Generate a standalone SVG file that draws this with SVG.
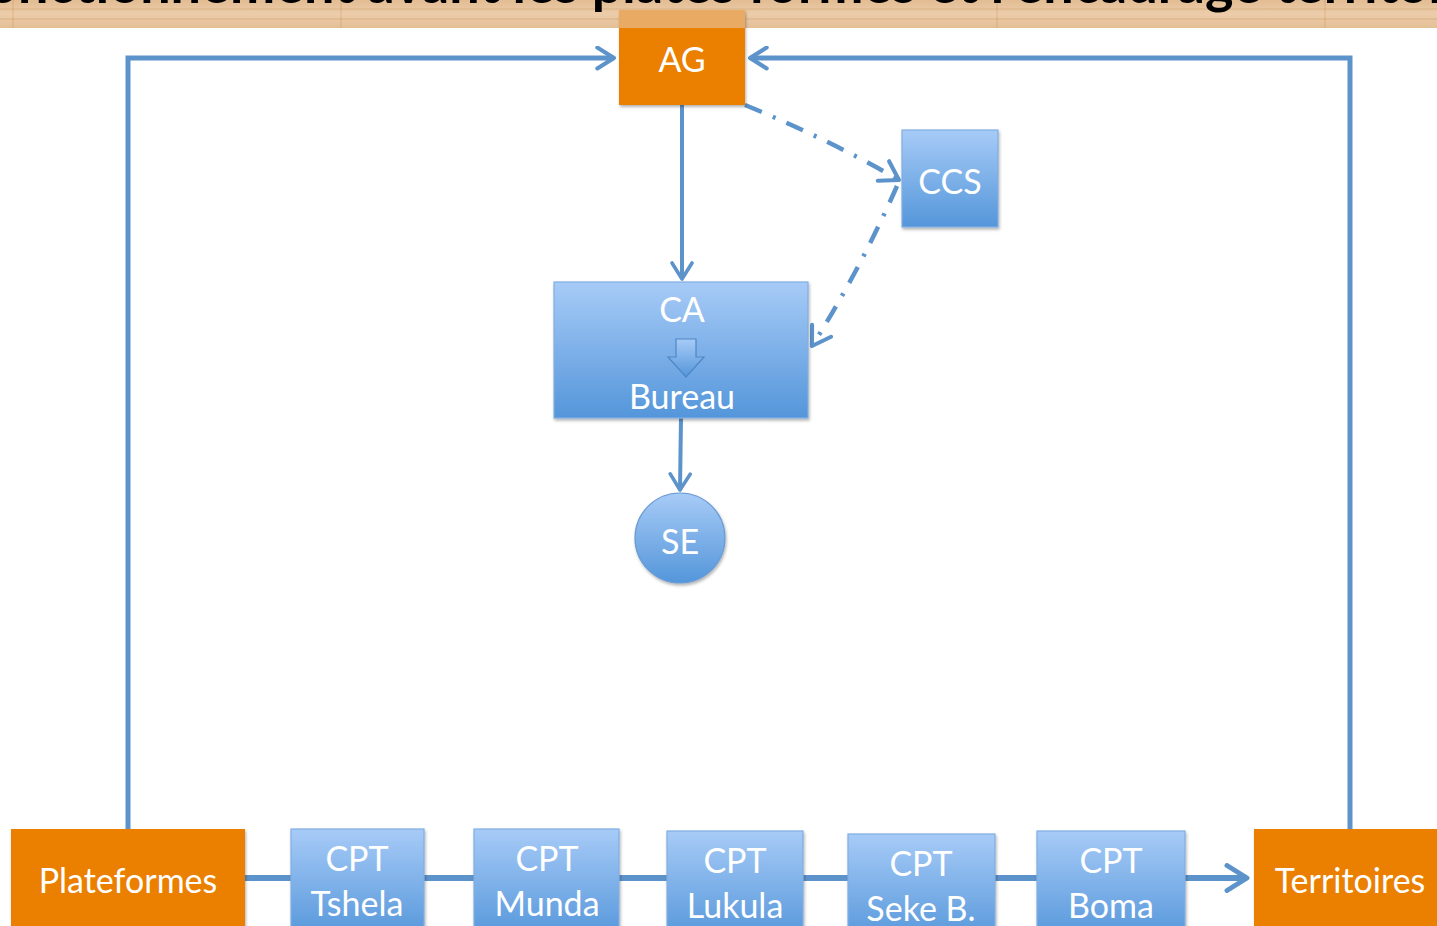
<svg xmlns="http://www.w3.org/2000/svg" width="1437" height="926" viewBox="0 0 1437 926">
<defs>
<linearGradient id="blue" x1="0" y1="0" x2="0" y2="1">
<stop offset="0" stop-color="#a7cbf7"/>
<stop offset="1" stop-color="#5496da"/>
</linearGradient>
<linearGradient id="wood" x1="0" y1="0" x2="0" y2="1">
<stop offset="0" stop-color="#e2bc92"/>
<stop offset="0.5" stop-color="#ecccaa"/>
<stop offset="1" stop-color="#e4bf95"/>
</linearGradient>
<filter id="sh" x="-10%" y="-10%" width="130%" height="130%">
<feDropShadow dx="1" dy="2" stdDeviation="1.5" flood-color="#000" flood-opacity="0.3"/>
</filter>
<marker id="arr" viewBox="0 0 12 12" refX="10" refY="6" markerWidth="5" markerHeight="5" orient="auto" markerUnits="strokeWidth">
<path d="M2,1 L10,6 L2,11" fill="none" stroke="#5d93cb" stroke-width="2" stroke-linecap="round" stroke-linejoin="round"/>
</marker>
<marker id="arr2" viewBox="0 0 12 12" refX="10" refY="6" markerWidth="6" markerHeight="6" orient="auto" markerUnits="strokeWidth">
<path d="M2,1 L10,6 L2,11" fill="none" stroke="#5d93cb" stroke-width="1.8" stroke-linecap="round" stroke-linejoin="round"/>
</marker>
</defs>
<style>
.lbl{font-family:Lato,"Open Sans","Liberation Sans",sans-serif;fill:#fff;font-size:34px;text-anchor:middle}
.blue{fill:url(#blue);stroke:#80aee3;stroke-width:1.2;filter:url(#sh)}
.orange{fill:#eb8006;filter:url(#sh)}
.con{fill:none;stroke:#5d93cb;stroke-width:5}
.dash{fill:none;stroke:#5d93cb;stroke-width:4.5;stroke-dasharray:18 12 3 12}
</style>
<rect width="1437" height="926" fill="#fff"/>

<g id="banner">
<rect x="0" y="0" width="1437" height="28" fill="url(#wood)"/>
<g stroke="#d4a878" stroke-opacity="0.35" stroke-width="2">
<line x1="0" y1="9" x2="1437" y2="9"/>
<line x1="0" y1="19" x2="1437" y2="19"/>
</g>
<g stroke="#c98f50" stroke-opacity="0.4" stroke-width="1">
<line x1="13" y1="0" x2="13" y2="28"/>
<line x1="341" y1="0" x2="341" y2="28"/>
<line x1="997" y1="0" x2="997" y2="28"/>
<line x1="1325" y1="0" x2="1325" y2="28"/>
</g>
<text x="731" y="3" font-family="Lato,'Liberation Sans',sans-serif" font-weight="bold" font-size="54" fill="#000" text-anchor="middle">Fonctionnement avant les plates formes et l'encadrage territorial</text>
</g>

<g id="connectors">
<polyline class="con" points="128,829 128,58 614,58" marker-end="url(#arr)"/>
<polyline class="con" points="1350,829 1350,58 750,58" marker-end="url(#arr)"/>
<line class="con" style="stroke-width:4" x1="682" y1="105" x2="682" y2="279" marker-end="url(#arr2)"/>
<line class="con" style="stroke-width:4" x1="681" y1="418" x2="680" y2="490" marker-end="url(#arr2)"/>
<path class="dash" d="M745,105 Q830,140 899,180" marker-end="url(#arr2)"/>
<path class="dash" d="M897,186 Q860,270 812,346" marker-end="url(#arr2)"/>
<line class="con" style="stroke-width:6" x1="245" y1="878" x2="1247" y2="878" marker-end="url(#arr)"/>
</g>

<g id="AG">
<rect class="orange" x="619" y="10" width="126" height="95"/>
<rect x="619" y="10" width="126" height="18" fill="#e9b276" opacity="0.85"/>
<text class="lbl" x="682" y="72">AG</text>
</g>

<g id="CCS">
<rect class="blue" x="902" y="130" width="96" height="97"/>
<text class="lbl" x="950" y="194">CCS</text>
</g>

<g id="CA">
<rect class="blue" x="554" y="282" width="254" height="136"/>
<text class="lbl" x="682" y="322">CA</text>
<path d="M676,339 H696 V357 H704 L686,377 L668,357 H676 Z" fill="url(#blue)" stroke="#4f86c6" stroke-width="1.2"/>
<text class="lbl" x="682" y="409">Bureau</text>
</g>

<g id="SE">
<circle cx="680" cy="538" r="45" fill="url(#blue)" stroke="#6a9bd4" stroke-width="1.2" filter="url(#sh)"/>
<text class="lbl" x="680" y="554">SE</text>
</g>

<g id="Plateformes">
<rect class="orange" x="11" y="829" width="234" height="110"/>
<text class="lbl" x="128" y="893">Plateformes</text>
</g>

<g id="CPT_Tshela">
<rect class="blue" x="291" y="829" width="133" height="110"/>
<text class="lbl" x="357" y="871">CPT</text>
<text class="lbl" x="357" y="916">Tshela</text>
</g>

<g id="CPT_Munda">
<rect class="blue" x="474" y="829" width="145" height="110"/>
<text class="lbl" x="547" y="871">CPT</text>
<text class="lbl" x="547" y="916">Munda</text>
</g>

<g id="CPT_Lukula">
<rect class="blue" x="667" y="831" width="136" height="110"/>
<text class="lbl" x="735" y="873">CPT</text>
<text class="lbl" x="735" y="918">Lukula</text>
</g>

<g id="CPT_Seke">
<rect class="blue" x="848" y="834" width="147" height="110"/>
<text class="lbl" x="921" y="876">CPT</text>
<text class="lbl" x="921" y="921">Seke B.</text>
</g>

<g id="CPT_Boma">
<rect class="blue" x="1037" y="831" width="148" height="110"/>
<text class="lbl" x="1111" y="873">CPT</text>
<text class="lbl" x="1111" y="918">Boma</text>
</g>

<g id="Territoires">
<rect class="orange" x="1254" y="829" width="190" height="110"/>
<text class="lbl" x="1350" y="893">Territoires</text>
</g>
</svg>
